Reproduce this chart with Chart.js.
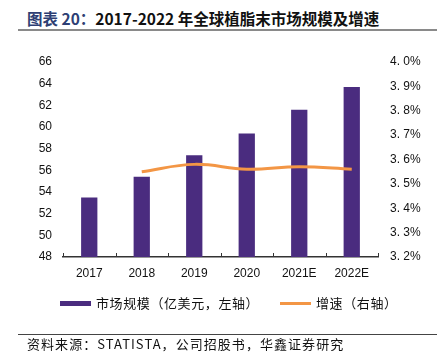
<!DOCTYPE html>
<html>
<head>
<meta charset="utf-8">
<script src="https://cdn.jsdelivr.net/npm/chart.js@4"></script>
<style>
  body { margin: 0; background: #fff; }
  #wrap { position: relative; width: 437px; height: 358px; overflow: hidden; font-family: "Noto Sans CJK SC", sans-serif; }
  #chart { position: absolute; left: 0; top: 0; }
  .title { position: absolute; left: 27px; top: 7px; font-size: 15.5px; font-weight: bold; color: #111; white-space: nowrap; }
  .title span { color: #2e3f74; }
  .rule-top { position: absolute; left: 18px; top: 29px; width: 419px; height: 2px; background: #8a8a8a; }
  .legend { position: absolute; top: 293px; font-size: 13px; color: #111; white-space: nowrap; letter-spacing: 0.6px; }
  .legend i { display: inline-block; width: 31px; vertical-align: middle; margin-right: 5px; position: relative; top: -1px; }
  .rule-bot { position: absolute; left: 18px; top: 334px; width: 419px; height: 1px; background: #444; }
  .source { position: absolute; left: 27px; top: 334px; font-size: 13px; color: #111; white-space: nowrap; letter-spacing: 1.05px; }
</style>
</head>
<body>
<div id="wrap">
  <div class="title"><span>图表 20：</span>2017-2022 年全球植脂末市场规模及增速</div>
  <div class="rule-top"></div>
  <canvas id="chart" width="437" height="358"></canvas>
  <div class="legend" style="left:60px"><i style="height:5px;background:#4a2c7f"></i>市场规模（亿美元，左轴）</div>
  <div class="legend" style="left:280px"><i style="height:3px;background:#f39645"></i>增速（右轴）</div>
  <div class="rule-bot"></div>
  <div class="source">资料来源：STATISTA，公司招股书，华鑫证券研究</div>
</div>
<script>
const years = ['2017', '2018', '2019', '2020', '2021E', '2022E'];
const marketSize = [53.5, 55.4, 57.4, 59.4, 61.6, 63.7];
const growth = [null, 3.55, 3.58, 3.56, 3.57, 3.56];

// small inward ticks on the x axis at category boundaries
const innerTicks = {
    id: 'innerTicks',
    afterDraw(chart) {
        const x = chart.scales.x;
        const ctx = chart.ctx;
        const bottom = chart.chartArea.bottom;
        const step = (x.right - x.left) / years.length;
        ctx.save();
        ctx.strokeStyle = '#333';
        ctx.lineWidth = 1;
        for (let i = 0; i <= years.length; i++) {
            const px = Math.round(x.left + step * i) + 0.5;
            ctx.beginPath();
            ctx.moveTo(px, bottom);
            ctx.lineTo(px, bottom - 4);
            ctx.stroke();
        }
        ctx.restore();
    }
};

const tickFont = { family: '"Liberation Sans", Arial, sans-serif', size: 12 };

new Chart(document.getElementById('chart'), {
    type: 'bar',
    data: {
        labels: years,
        datasets: [
            {
                type: 'line',
                label: '增速（右轴）',
                data: growth,
                yAxisID: 'y1',
                borderColor: '#f39645',
                borderWidth: 3,
                tension: 0.4,
                pointRadius: 0,
                fill: false
            },
            {
                label: '市场规模（亿美元，左轴）',
                data: marketSize,
                yAxisID: 'y',
                backgroundColor: '#4a2c7f',
                barPercentage: 0.31,
                categoryPercentage: 1
            }
        ]
    },
    options: {
        responsive: false,
        animation: false,
        layout: { padding: { top: 62, left: 0, right: 0, bottom: 0 } },
        plugins: { legend: { display: false }, tooltip: { enabled: false } },
        scales: {
            x: {
                grid: { display: false, drawTicks: false },
                border: { display: true, color: '#333', width: 1.5 },
                ticks: { font: tickFont, color: '#111', padding: 9, maxRotation: 0 },
                afterFit(scale) { scale.height = 101; }
            },
            y: {
                position: 'left',
                min: 48,
                max: 66,
                grid: { display: false, drawTicks: false },
                border: { display: false },
                ticks: { stepSize: 2, font: tickFont, color: '#111', padding: 11 },
                afterFit(scale) { scale.width = 63; }
            },
            y1: {
                position: 'right',
                min: 3.2,
                max: 4.0,
                grid: { display: false, drawTicks: false },
                border: { display: false },
                ticks: {
                    stepSize: 0.1,
                    font: tickFont,
                    color: '#111',
                    padding: 12,
                    callback: v => v.toFixed(1).replace('.', '. ') + '%'
                },
                afterFit(scale) { scale.width = 59; }
            }
        }
    },
    plugins: [innerTicks]
});
</script>
</body>
</html>
